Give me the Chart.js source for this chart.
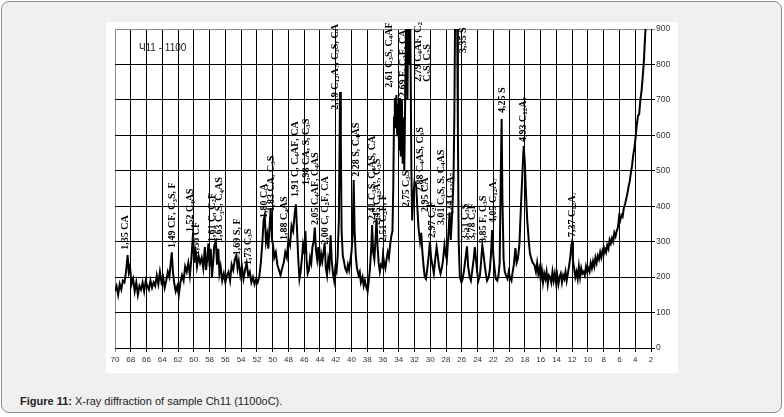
<!DOCTYPE html>
<html>
<head>
<meta charset="utf-8">
<script src="https://cdn.jsdelivr.net/npm/chart.js@4.4.1/dist/chart.umd.min.js"></script>
<style>
  html, body { margin: 0; padding: 0; background: #fff; }
  body { width: 784px; height: 417px; position: relative; overflow: hidden; font-family: "Liberation Sans", Arial, sans-serif; }
  #frame { position: absolute; left: 1px; top: 1px; width: 779px; height: 410px; border: 1px solid #8c8c8c; border-radius: 8px; background: #f0f0f0; }
  #plot { position: absolute; left: 106px; top: 22px; width: 572px; height: 351px; background: #fff; }
  #caption { position: absolute; left: 20px; top: 395px; font-size: 11px; color: #222; }
</style>
</head>
<body>
<div id="frame"></div>
<div id="plot"><canvas id="xrdChart" width="572" height="351"></canvas></div>
<div id="caption"><b>Figure 11:</b> X-ray diffraction of sample Ch11 (1100oC).</div>
<script>
// XRD scan of sample Ch11: [2θ, intensity]
const scan = [
  [70.0,160],[69.8,175],[69.6,150],[69.4,180],[69.2,165],[69.0,190],[68.8,185],[68.6,215],[68.4,262],[68.25,215],
  [68.1,230],[67.9,180],[67.7,195],[67.5,160],[67.3,185],[67.1,150],[66.9,175],[66.7,165],[66.5,185],[66.3,160],
  [66.1,190],[65.9,175],[65.7,165],[65.5,190],[65.3,170],[65.1,185],[64.9,175],[64.7,205],[64.5,180],[64.3,215],
  [64.1,185],[63.9,200],[63.7,170],[63.5,190],[63.3,215],[63.1,200],[62.95,235],[62.8,270],[62.65,215],[62.5,185],
  [62.3,160],[62.1,175],[61.9,150],[61.7,185],[61.5,205],[61.3,190],[61.1,230],[60.9,215],[60.7,240],[60.5,205],
  [60.3,255],[60.1,325],[59.95,240],[59.8,285],[59.6,230],[59.4,260],[59.2,240],[59.0,255],[58.8,225],[58.6,285],
  [58.45,220],[58.3,250],[58.15,295],[58.0,230],[57.85,280],[57.7,200],[57.55,240],[57.4,290],[57.2,300],[57.05,235],
  [56.9,280],[56.75,210],[56.6,230],[56.4,190],[56.2,210],[56.0,185],[55.8,205],[55.6,215],[55.4,190],[55.2,235],
  [55.0,220],[54.8,250],[54.6,262],[54.45,225],[54.3,245],[54.1,205],[53.9,230],[53.7,195],[53.5,220],[53.3,240],
  [53.1,205],[52.9,215],[52.7,185],[52.5,200],[52.3,180],[52.1,195],[51.9,185],[51.7,200],[51.5,240],[51.3,300],
  [51.15,360],[51.0,375],[50.85,300],[50.7,320],[50.55,280],[50.4,340],[50.25,395],[50.1,310],[49.95,290],[49.8,255],
  [49.6,270],[49.4,235],[49.2,220],[49.0,205],[48.8,225],[48.6,240],[48.4,270],[48.2,255],[48.0,305],[47.8,290],
  [47.6,345],[47.4,330],[47.2,380],[47.05,405],[46.9,330],[46.75,250],[46.6,195],[46.45,215],[46.3,250],[46.15,290],
  [46.0,265],[45.85,330],[45.7,250],[45.55,210],[45.4,220],[45.25,255],[45.1,240],[44.95,285],[44.8,300],[44.65,340],
  [44.5,275],[44.35,250],[44.2,285],[44.0,230],[43.85,265],[43.7,245],[43.55,270],[43.4,296],[43.25,225],[43.1,205],
  [42.95,250],[42.8,230],[42.65,318],[42.5,245],[42.35,210],[42.2,190],[42.05,225],[41.9,215],[41.75,260],[41.6,360],
  [41.45,722],[41.35,580],[41.25,330],[41.1,260],[40.95,245],[40.8,225],[40.6,215],[40.45,235],[40.3,220],[40.15,245],
  [40.0,270],[39.85,320],[39.72,474],[39.6,330],[39.45,260],[39.3,225],[39.1,205],[38.95,215],[38.8,185],[38.6,200],
  [38.45,175],[38.3,190],[38.1,170],[37.95,160],[37.8,190],[37.65,225],[37.5,280],[37.38,347],[37.25,270],[37.1,250],
  [36.95,305],[36.82,367],[36.7,290],[36.55,240],[36.4,215],[36.25,235],[36.1,230],[36.0,262],[35.85,240],[35.7,225],
  [35.55,250],[35.4,270],[35.25,255],[35.1,290],[34.95,315],[34.8,330],[34.7,450],[34.6,650],[34.5,705],[34.4,620],
  [34.3,714],[34.2,600],[34.1,690],[33.95,560],[33.85,705],[33.75,540],[33.6,700],[33.5,520],[33.4,650],[33.3,500],
  [33.15,760],[33.05,950],[32.9,700],[32.8,950],[32.65,800],[32.55,950],[32.4,500],[32.3,360],[32.15,430],[32.0,470],
  [31.8,460],[31.65,400],[31.5,340],[31.3,300],[31.15,325],[31.0,270],[30.85,230],[30.7,200],[30.55,195],[30.4,220],
  [30.2,260],[30.05,300],[29.9,255],[29.7,230],[29.55,210],[29.4,245],[29.2,285],[29.05,260],[28.9,230],[28.7,210],
  [28.55,225],[28.4,245],[28.2,290],[28.05,265],[27.9,250],[27.7,320],[27.55,383],[27.4,305],[27.2,390],[27.05,480],
  [26.95,650],[26.85,950],[26.7,950],[26.6,950],[26.5,620],[26.4,300],[26.25,200],[26.05,185],[25.9,195],[25.75,215],
  [25.55,250],[25.35,287],[25.2,230],[25.0,200],[24.85,190],[24.7,215],[24.5,250],[24.35,285],[24.2,250],[24.05,215],
  [23.9,190],[23.7,205],[23.55,245],[23.4,290],[23.25,265],[23.1,235],[22.95,210],[22.8,190],[22.6,200],[22.45,220],
  [22.3,265],[22.15,333],[22.0,260],[21.85,225],[21.7,195],[21.5,190],[21.35,205],[21.2,240],[21.05,500],[20.95,646],
  [20.85,420],[20.7,250],[20.55,215],[20.4,205],[20.2,195],[20.05,215],[19.9,200],[19.7,190],[19.55,215],[19.4,235],
  [19.2,282],[19.05,240],[18.9,250],[18.7,290],[18.5,400],[18.3,500],[18.15,570],[18.0,520],[17.85,430],[17.7,360],
  [17.5,300],[17.35,265],[17.15,250],[17.0,240],[16.8,235],[16.6,215],[16.45,240],[16.3,210],[16.15,225],[16.0,195],
  [15.85,220],[15.7,185],[15.55,210],[15.4,195],[15.25,215],[15.1,180],[14.95,205],[14.8,200],[14.65,185],[14.5,215],
  [14.35,190],[14.2,210],[14.05,185],[13.9,205],[13.75,180],[13.6,200],[13.45,210],[13.3,185],[13.15,205],[13.0,195],
  [12.85,215],[12.7,190],[12.55,210],[12.4,230],[12.25,255],[12.1,290],[12.0,300],[11.9,245],[11.75,225],[11.6,200],
  [11.45,215],[11.3,195],[11.15,230],[11.0,200],[10.85,225],[10.7,210],[10.55,215],[10.4,205],[10.25,230],[10.1,215],
  [9.95,225],[9.8,215],[9.65,240],[9.5,225],[9.35,245],[9.2,230],[9.05,255],[8.9,240],[8.75,260],[8.6,250],
  [8.45,270],[8.3,255],[8.15,275],[8.0,265],[7.85,280],[7.7,270],[7.55,290],[7.4,280],[7.25,305],[7.1,295],
  [6.95,310],[6.8,300],[6.65,325],[6.5,315],[6.35,330],[6.2,340],[6.05,370],[5.9,360],[5.75,375],[5.6,370],
  [5.45,395],[5.3,405],[5.15,420],[5.0,435],[4.85,455],[4.7,470],[4.55,495],[4.4,515],[4.25,545],[4.1,565],
  [3.95,595],[3.8,630],[3.65,655],[3.5,660],[3.35,700],[3.2,725],[3.05,765],[2.9,810],[2.75,880],[2.6,930]
];

// phase labels: text, 2θ of the text column, intensity where the text starts
const peakText = [
  '1,35 CA', '1,49 CF, C3S, F', '1,52 C4AS', '1,56 CF', '1,61 C, C2F', '1,63 C3S, C4AS',
  '1,69 S, F', '1,73 C3S', '1,80 CA', '1,83 CA, C3S', '1,88 C4AS', '1,91 C, C4AF, CA',
  '1,98 CA, S, C3S', '2,05 C4AF, C4AS', '2,00 C, C2F, CA', '2,19 C12A7, C3S, CA', '2,28 S, C4AS',
  '2,41 C3S, C4AS, CA', '2,45 C12A7, C3S', '2,51 C2F, F', '2,61 C3S, C4AF', '2,69 F, C2F, CA',
  '2,75 C3S', '2,79 C4AF, C2F,', 'C3S, C2S', '2,88 C4AS, C3S', '2,95 CA', '2,97 C2F',
  '3,01 C3S, S, C4AS', '3,24 C12A7', '3,35 S', '3,51 C3S', '3,78 C2F', '3,85 F, C3S',
  '4,05 C12A7', '4,25 S', '4,93 C12A7', '7,37 C12A7'
];
const peakAt = [
  68.73, 62.68, 60.39, 59.63, 57.7, 56.7,
  54.52, 53.12, 51.0, 50.2, 48.5, 47.16,
  45.76, 44.62, 43.35, 42.08, 39.42,
  37.39, 36.75, 35.99, 35.23, 33.45,
  33.07, 31.55, 30.41, 31.3, 30.66, 29.77,
  28.63, 27.49, 25.84, 25.59, 24.7, 23.3,
  22.03, 20.89, 18.22, 12.0
];
const peakBase = [
  277, 282, 327, 262, 299, 299,
  262, 234, 367, 385, 305, 426,
  460, 347, 291, 672, 483,
  361, 347, 299, 734, 708,
  398, 751, 751, 440, 384, 310,
  347, 367, 832, 305, 305, 296,
  353, 663, 581, 313
];

const sampleName = 'Ч11 - 1100';
const sampleAt = [66.97, 846];

const LABEL_FONT = '"Liberation Serif", "Times New Roman", serif';

// digits right after a letter (C3S, C12A7) are drawn as subscripts
function drawFormula(ctx, text) {
  let pos = 0;
  let prevLetter = false;
  for (const ch of text) {
    const isDigit = ch >= '0' && ch <= '9';
    const sub = isDigit && prevLetter;
    ctx.font = sub ? `bold 7px ${LABEL_FONT}` : `bold 10px ${LABEL_FONT}`;
    ctx.fillText(ch, pos, sub ? 2.5 : 0);
    pos += ctx.measureText(ch).width;
    if (!isDigit) prevLetter = /[A-Za-z]/.test(ch);
  }
}

const peakLabels = {
  id: 'peakLabels',
  afterDatasetsDraw(chart) {
    const { ctx, scales: { x, y } } = chart;
    ctx.save();
    ctx.fillStyle = '#000';
    ctx.textAlign = 'left';
    ctx.textBaseline = 'middle';
    peakText.forEach((text, i) => {
      ctx.save();
      ctx.translate(x.getPixelForValue(peakAt[i]), y.getPixelForValue(peakBase[i]));
      ctx.rotate(-Math.PI / 2);
      drawFormula(ctx, text);
      ctx.restore();
    });
    ctx.font = '10px "Liberation Sans", Arial, sans-serif';
    ctx.fillStyle = '#222';
    ctx.fillText(sampleName, x.getPixelForValue(sampleAt[0]), y.getPixelForValue(sampleAt[1]));
    ctx.restore();
  }
};

new Chart(document.getElementById('xrdChart'), {
  type: 'line',
  data: {
    datasets: [{
      data: scan.map(p => ({ x: p[0], y: p[1] })),
      borderColor: '#000',
      borderWidth: 2,
      pointRadius: 0,
      tension: 0
    }]
  },
  options: {
    responsive: false,
    animation: false,
    layout: { padding: { left: 9, top: 7, right: 0, bottom: 0 } },
    plugins: { legend: { display: false }, tooltip: { enabled: false } },
    scales: {
      x: {
        type: 'linear',
        reverse: true,
        min: 2,
        max: 70,
        afterFit: scale => { scale.height = 25; },
        ticks: { stepSize: 2, color: '#333', font: { size: 8, family: '"Liberation Sans", Arial' }, maxRotation: 0, autoSkip: false, padding: 3 },
        grid: { color: c => (c.tick && c.tick.value === 70 ? '#8a8a8a' : '#000'), lineWidth: 1, tickLength: 4 },
        border: { display: true, color: '#000', width: 1 }
      },
      y: {
        position: 'right',
        min: 0,
        max: 900,
        afterFit: scale => { scale.width = 27; },
        ticks: { stepSize: 100, color: '#333', font: { size: 8.5, family: '"Liberation Sans", Arial' }, padding: 1 },
        grid: { color: c => (c.tick && c.tick.value === 900 ? '#8a8a8a' : '#000'), lineWidth: 1, tickLength: 4 },
        border: { display: true, color: '#000', width: 1 }
      }
    }
  },
  plugins: [peakLabels]
});
</script>
</body>
</html>
